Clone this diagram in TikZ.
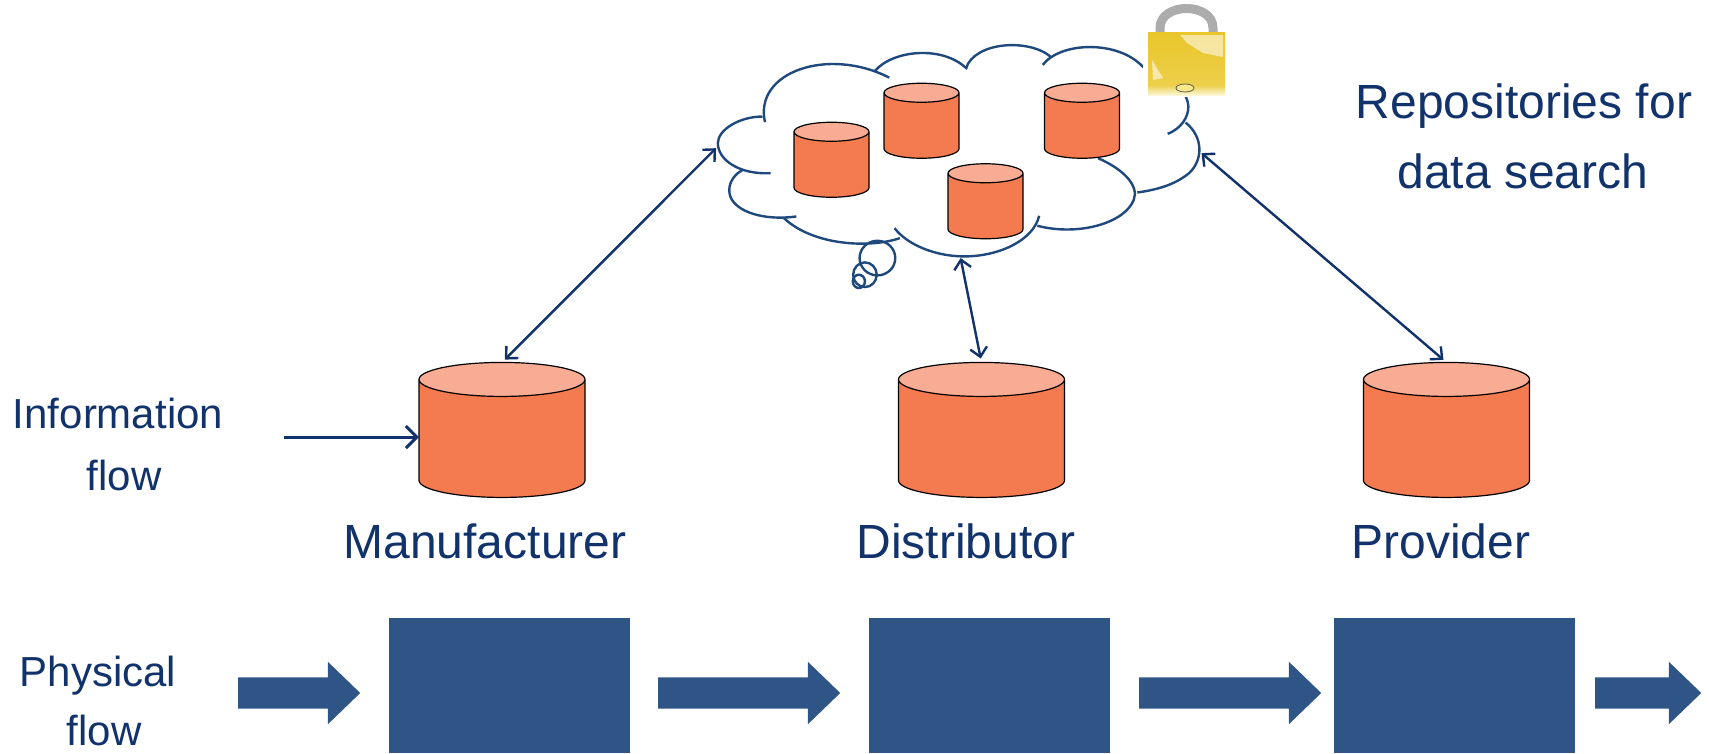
\documentclass[tikz,border=0pt]{standalone}
\usepackage{fontspec}
\setmainfont{Liberation Sans}
\usetikzlibrary{arrows.meta,shapes.geometric,shapes.arrows}
\definecolor{navy}{HTML}{12326B}
\definecolor{cloudblue}{HTML}{1F497D}
\definecolor{boxblue}{HTML}{2F5486}
\definecolor{cylbody}{HTML}{F47A50}
\definecolor{cyltop}{HTML}{F8AC94}
\definecolor{lockgold}{HTML}{E9C62A}
\definecolor{lockpale}{HTML}{F7E88A}
\tikzset{
	drum/.style={cylinder, shape border rotate=90, draw=black, cylinder uses custom fill, cylinder body fill=cylbody, cylinder end fill=cyltop, outer sep=0pt},
	bigdrum/.style={drum, line width=1.2pt, inner xsep=40pt, inner ysep=20pt, minimum width=166pt, minimum height=135pt, aspect=0.425},
	smalldrum/.style={drum, line width=1.2pt, inner sep=20pt, minimum width=75pt, minimum height=75pt, aspect=0.475},
	tag/.style={text=navy, anchor=base, inner sep=0pt},
	bigtag/.style={tag, font=\fontsize{48}{48}\selectfont},
	sidetag/.style={tag, font=\fontsize{42}{42}\selectfont},
	plant/.style={rectangle, fill=boxblue, inner sep=0pt, minimum width=241pt, minimum height=135pt},
	flow/.style={single arrow, fill=boxblue, anchor=tail, inner xsep=0pt, inner ysep=15.5pt, single arrow head extend=15.5pt, single arrow tip angle=88},
	link/.style={draw=navy, line width=2.4pt, {Straight Barb[length=9pt,width=17pt]}-{Straight Barb[length=9pt,width=17pt]}},
	puff/.style={draw=cloudblue, line width=2.4pt}
}
\begin{document}
\begin{tikzpicture}[x=1pt, y=-1pt]
	\useasboundingbox (0,0) rectangle (1709,753);
	\begin{scope}[shift={(700,0)}, x=0.357pt, y=-0.333pt]
		\draw[puff] (182,367) .. controls (150,215) and (360,140) .. (530,233);
		\draw[puff] (490,213) .. controls (540,150) and (680,135) .. (748,207);
		\draw[puff] (745,205) .. controls (770,125) and (920,115) .. (982,170);
		\draw[puff] (960,195) .. controls (1010,125) and (1170,120) .. (1240,200) .. controls (1300,235) and (1365,260) .. (1368,320) .. controls (1368,350) and (1350,385) .. (1310,402);
		\draw[puff] (1360,368) .. controls (1410,410) and (1410,480) .. (1370,520) .. controls (1330,555) and (1280,570) .. (1225,578);
		\draw[puff] (1115,475) .. controls (1190,510) and (1230,560) .. (1215,600) .. controls (1190,670) and (1060,710) .. (945,678);
		\draw[puff] (950,648) .. controls (935,720) and (840,770) .. (740,770) .. controls (660,770) and (580,735) .. (545,685);
		\draw[puff] (560,715) .. controls (480,745) and (320,740) .. (235,655);
		\draw[puff] (270,650) .. controls (170,665) and (80,630) .. (82,570) .. controls (82,545) and (100,520) .. (118,512);
		\draw[puff] (198,520) .. controls (110,525) and (50,480) .. (50,430) .. controls (50,390) and (110,350) .. (175,350);
		\draw[puff] (497,775) ellipse [x radius=50, y radius=52];
		\draw[puff] (462,825) ellipse [x radius=33, y radius=37];
		\draw[puff] (445,845) ellipse [x radius=17, y radius=20];
		\coordinate (cloudw) at (45,445);
		\coordinate (clouds) at (730,775);
		\coordinate (cloude) at (1405,460);
	\end{scope}
	\node[smalldrum] (repoa) at (831.5,169) {};
	\node[smalldrum] (repob) at (921.5,130) {};
	\node[smalldrum] (repoc) at (1082,130) {};
	\node[smalldrum] (repod) at (985.5,210.5) {};
	\fill[white] (1143,2) rectangle (1229,97);
	\draw[line width=9pt, color=gray!65] (1160,36) -- (1160,28) .. controls (1160,2) and (1213,2) .. (1213,28) -- (1213,36);
	\shade[top color=lockgold, bottom color=lockgold!85!white] (1148,32) rectangle (1225,85);
	\shade[top color=lockgold!85!white, bottom color=lockpale!35!white] (1148,85) rectangle (1225,95);
	\fill[white, opacity=.55] (1180,35) -- (1223,35) -- (1223,57) -- (1203,53) -- (1187,43) -- cycle;
	\fill[white, opacity=.55] (1152,60) -- (1163,78) -- (1153,80) -- cycle;
	\draw[black!70, line width=.7pt, fill=lockpale] (1185,88) ellipse [x radius=9, y radius=4];
	\node[bigdrum] (manuf) at (502,446) {};
	\node[bigdrum] (distr) at (981.5,446) {};
	\node[bigdrum] (provi) at (1446.5,446) {};
	\node[bigtag] (manuftext) at (485,558) {Manufacturer};
	\node[bigtag] (distrtext) at (966,558) {Distributor};
	\node[bigtag] (provitext) at (1441,558) {Provider};
	\node[bigtag] (repos) at (1524,118) {Repositories for};
	\node[bigtag] (search) at (1523,188) {data search};
	\node[sidetag] (info) at (118,428) {Information};
	\node[sidetag] (infoflow) at (124,490) {flow};
	\node[sidetag] (phys) at (98,686) {Physical};
	\node[sidetag] (physflow) at (104,745) {flow};
	\coordinate (infostart) at (284,437);
	\draw[draw=navy, line width=3pt, -{Straight Barb[length=11pt,width=22pt]}] (infostart) -- (manuf.west |- infostart);
	\draw[link, shorten >=4pt] (cloudw) -- (manuf.north);
	\draw[link, shorten >=4pt] (clouds) -- (distr.north);
	\draw[link, shorten >=4pt] (cloude) -- (provi.north);
	\node[plant] (plantm) at (509.5,685.5) {};
	\node[plant] (plantd) at (989,685.5) {};
	\node[plant] (plantp) at (1454.5,685.5) {};
	\node[flow, minimum height=122pt] (flowa) at (238,693) {};
	\node[flow, minimum height=182pt] (flowb) at (658,693) {};
	\node[flow, minimum height=182pt] (flowc) at (1139,693) {};
	\node[flow, minimum height=106pt] (flowd) at (1595,693) {};
\end{tikzpicture}
\end{document}
